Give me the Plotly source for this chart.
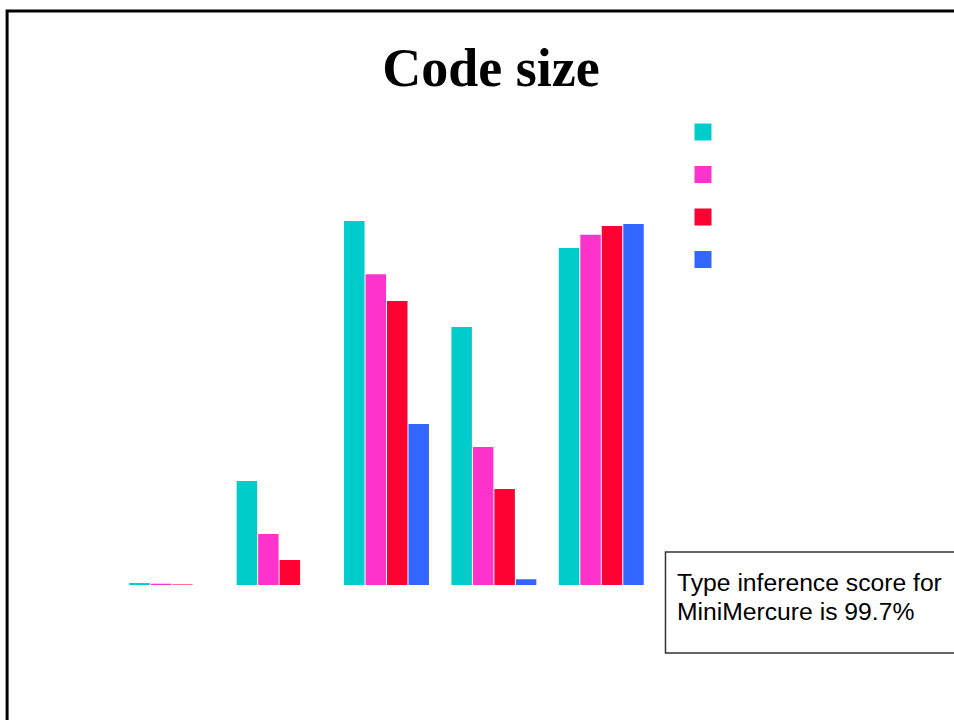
import plotly.graph_objects as go

# ---- data ----
categories = ["1", "2", "3", "4", "5"]
series_names = ["", " ", "  ", "   "]
series_cyan = [0.55, 28.6, 100.0, 70.9, 92.6]
series_pink = [0.35, 14.0, 85.4, 37.9, 96.2]
series_red = [0.15, 6.9, 78.0, 26.4, 98.6]
series_blue = [0.0, 0.0, 44.2, 1.6, 99.2]
colors = ["#00CCCC", "#FF33CC", "#FF0033", "#3366FF"]
title_text = "Code size"
note_lines = ["Type inference score for", "MiniMercure is 99.7%"]

W, H = 954, 720
ML, MR, MT, MB = 118, 298.5, 100, 135
plot_w = W - ML - MR
plot_h = H - MT - MB
px_per_unit = 3.64
EDGE = 5  # outline width (same colour as the bar)
y0_off = (EDGE / 2) / px_per_unit

fig = go.Figure()
for i, (name, vals) in enumerate(zip(series_names,
                                     [series_cyan, series_pink, series_red, series_blue])):
    fig.add_trace(go.Bar(
        x=categories, y=vals, name=name, legendgroup=f"g{i}",
        marker=dict(color=colors[i], line=dict(color=colors[i], width=EDGE)),
        cliponaxis=True,
    ))

def px_x(p):
    return (p - ML) / plot_w

def px_y(p):
    return (H - MB - p) / plot_h

annotations = []
for k, (line, yc) in enumerate(zip(note_lines, [582, 611])):
    annotations.append(dict(text=line, xref="paper", yref="paper",
                            x=px_x(676), y=px_y(yc), xanchor="left", yanchor="middle",
                            showarrow=False, align="left",
                            font=dict(family="Liberation Sans, Arial, sans-serif", size=24.7, color="black")))

fig.update_layout(
    width=W, height=H,
    margin=dict(l=ML, r=MR, t=MT, b=MB, autoexpand=False),
    paper_bgcolor="white", plot_bgcolor="white",
    barmode="group", bargap=0.2, bargroupgap=6 / 21.5,
    xaxis=dict(visible=False, range=[-0.5, 4.5]),
    yaxis=dict(visible=False, range=[y0_off, y0_off + plot_h / px_per_unit]),
    title=dict(text="<b>" + title_text + "</b>", x=491 / W, xref="container", xanchor="center",
               y=1 - 48 / H, yref="container", yanchor="top",
               font=dict(family="Liberation Serif, Times New Roman, serif", size=54, color="black")),
    showlegend=True,
    legend=dict(xref="container", yref="container", x=683 / W, y=1 - 117.5 / H,
                xanchor="left", yanchor="top", tracegroupgap=23.5,
                bgcolor="rgba(0,0,0,0)", font=dict(size=12)),
    shapes=[
        dict(type="rect", xref="paper", yref="paper",
             x0=px_x(7), x1=px_x(1100), y0=px_y(11), y1=px_y(900),
             line=dict(color="black", width=3), fillcolor="rgba(0,0,0,0)", layer="above"),
        dict(type="rect", xref="paper", yref="paper",
             x0=px_x(666), x1=px_x(1100), y0=px_y(552), y1=px_y(653),
             line=dict(color="#333333", width=1.5), fillcolor="white", layer="above"),
    ],
    annotations=annotations,
)

fig.write_html("out.html", config={"displayModeBar": False},
               post_script="document.body.style.margin='0';document.body.style.overflow='hidden';")
